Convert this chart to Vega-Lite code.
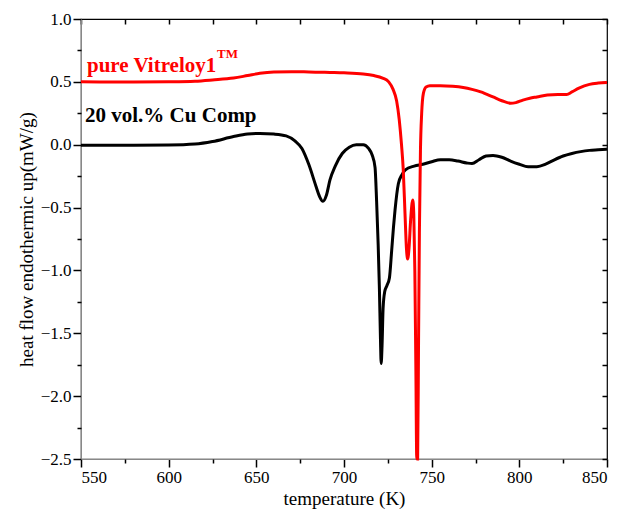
{
  "$schema": "https://vega.github.io/schema/vega-lite/v6.json",
  "width": 526,
  "height": 440,
  "autosize": {"type": "none"},
  "padding": {"left": 81, "top": 19, "right": 25, "bottom": 60},
  "config": {
    "view": {"stroke": "#000000", "strokeWidth": 1.2},
    "axis": {"grid": false}
  },
  "resolve": {"axis": {"x": "independent", "y": "independent"}},
  "layer": [
    {
      "data": {"values": [
      {"T": 550, "v": -0.005, "s": "black"}, {"T": 580, "v": -0.005, "s": "black"}, {"T": 600, "v": -0.003, "s": "black"}, {"T": 615, "v": 0.005, "s": "black"}, {"T": 625, "v": 0.025, "s": "black"}, {"T": 637, "v": 0.065, "s": "black"}, {"T": 645, "v": 0.085, "s": "black"}, {"T": 652, "v": 0.09, "s": "black"}, {"T": 660, "v": 0.085, "s": "black"}, {"T": 667, "v": 0.07, "s": "black"}, {"T": 672, "v": 0.03, "s": "black"}, {"T": 676, "v": -0.03, "s": "black"}, {"T": 680, "v": -0.16, "s": "black"}, {"T": 684, "v": -0.33, "s": "black"}, {"T": 686, "v": -0.41, "s": "black"}, {"T": 688, "v": -0.45, "s": "black"}, {"T": 690, "v": -0.4, "s": "black"}, {"T": 692, "v": -0.28, "s": "black"}, {"T": 695, "v": -0.17, "s": "black"}, {"T": 699, "v": -0.07, "s": "black"}, {"T": 703, "v": -0.02, "s": "black"}, {"T": 707, "v": 0.0, "s": "black"}, {"T": 711, "v": 0.0, "s": "black"}, {"T": 714, "v": -0.03, "s": "black"}, {"T": 716, "v": -0.08, "s": "black"}, {"T": 717.7, "v": -0.18, "s": "black"}, {"T": 718.6, "v": -0.45, "s": "black"}, {"T": 719.5, "v": -0.8, "s": "black"}, {"T": 720.2, "v": -1.15, "s": "black"}, {"T": 720.8, "v": -1.55, "s": "black"}, {"T": 721.2, "v": -1.74, "s": "black"}, {"T": 721.7, "v": -1.6, "s": "black"}, {"T": 722.3, "v": -1.3, "s": "black"}, {"T": 723.2, "v": -1.17, "s": "black"}, {"T": 724.5, "v": -1.12, "s": "black"}, {"T": 725.9, "v": -1.06, "s": "black"}, {"T": 727.2, "v": -0.84, "s": "black"}, {"T": 728.2, "v": -0.66, "s": "black"}, {"T": 729.1, "v": -0.52, "s": "black"}, {"T": 731, "v": -0.31, "s": "black"}, {"T": 733, "v": -0.24, "s": "black"}, {"T": 735, "v": -0.2, "s": "black"}, {"T": 740, "v": -0.17, "s": "black"}, {"T": 745, "v": -0.155, "s": "black"}, {"T": 750, "v": -0.135, "s": "black"}, {"T": 755, "v": -0.12, "s": "black"}, {"T": 760, "v": -0.12, "s": "black"}, {"T": 765, "v": -0.13, "s": "black"}, {"T": 770, "v": -0.145, "s": "black"}, {"T": 773, "v": -0.15, "s": "black"}, {"T": 777, "v": -0.12, "s": "black"}, {"T": 781, "v": -0.09, "s": "black"}, {"T": 785, "v": -0.085, "s": "black"}, {"T": 790, "v": -0.1, "s": "black"}, {"T": 795, "v": -0.13, "s": "black"}, {"T": 800, "v": -0.155, "s": "black"}, {"T": 805, "v": -0.175, "s": "black"}, {"T": 810, "v": -0.175, "s": "black"}, {"T": 815, "v": -0.155, "s": "black"}, {"T": 820, "v": -0.12, "s": "black"}, {"T": 825, "v": -0.09, "s": "black"}, {"T": 830, "v": -0.07, "s": "black"}, {"T": 835, "v": -0.055, "s": "black"}, {"T": 840, "v": -0.045, "s": "black"}, {"T": 845, "v": -0.04, "s": "black"}, {"T": 850, "v": -0.035, "s": "black"},
      {"T": 550, "v": 0.5, "s": "red"}, {"T": 580, "v": 0.498, "s": "red"}, {"T": 600, "v": 0.5, "s": "red"}, {"T": 615, "v": 0.505, "s": "red"}, {"T": 625, "v": 0.515, "s": "red"}, {"T": 637, "v": 0.53, "s": "red"}, {"T": 645, "v": 0.55, "s": "red"}, {"T": 652, "v": 0.568, "s": "red"}, {"T": 660, "v": 0.578, "s": "red"}, {"T": 670, "v": 0.58, "s": "red"}, {"T": 680, "v": 0.579, "s": "red"}, {"T": 692, "v": 0.575, "s": "red"}, {"T": 700, "v": 0.572, "s": "red"}, {"T": 711, "v": 0.563, "s": "red"}, {"T": 717, "v": 0.55, "s": "red"}, {"T": 722, "v": 0.53, "s": "red"}, {"T": 725.5, "v": 0.5, "s": "red"}, {"T": 728, "v": 0.44, "s": "red"}, {"T": 730, "v": 0.35, "s": "red"}, {"T": 731.5, "v": 0.2, "s": "red"}, {"T": 732.8, "v": 0.0, "s": "red"}, {"T": 733.8, "v": -0.2, "s": "red"}, {"T": 734.8, "v": -0.55, "s": "red"}, {"T": 735.6, "v": -0.82, "s": "red"}, {"T": 736.3, "v": -0.91, "s": "red"}, {"T": 737.1, "v": -0.82, "s": "red"}, {"T": 738, "v": -0.6, "s": "red"}, {"T": 739.2, "v": -0.44, "s": "red"}, {"T": 739.8, "v": -0.55, "s": "red"}, {"T": 740.4, "v": -1.0, "s": "red"}, {"T": 741.0, "v": -1.8, "s": "red"}, {"T": 741.5, "v": -2.5, "s": "red"}, {"T": 742.0, "v": -2.5, "s": "red"}, {"T": 742.5, "v": -1.6, "s": "red"}, {"T": 743.0, "v": -0.7, "s": "red"}, {"T": 743.6, "v": -0.05, "s": "red"}, {"T": 744.3, "v": 0.25, "s": "red"}, {"T": 745.3, "v": 0.41, "s": "red"}, {"T": 746.8, "v": 0.46, "s": "red"}, {"T": 749, "v": 0.47, "s": "red"}, {"T": 755, "v": 0.47, "s": "red"}, {"T": 762, "v": 0.465, "s": "red"}, {"T": 768, "v": 0.455, "s": "red"}, {"T": 773, "v": 0.44, "s": "red"}, {"T": 778, "v": 0.42, "s": "red"}, {"T": 785, "v": 0.38, "s": "red"}, {"T": 790, "v": 0.35, "s": "red"}, {"T": 795, "v": 0.33, "s": "red"}, {"T": 798, "v": 0.335, "s": "red"}, {"T": 802, "v": 0.355, "s": "red"}, {"T": 806, "v": 0.37, "s": "red"}, {"T": 810, "v": 0.38, "s": "red"}, {"T": 816, "v": 0.395, "s": "red"}, {"T": 822, "v": 0.4, "s": "red"}, {"T": 827, "v": 0.4, "s": "red"}, {"T": 830, "v": 0.42, "s": "red"}, {"T": 834, "v": 0.45, "s": "red"}, {"T": 840, "v": 0.48, "s": "red"}, {"T": 845, "v": 0.49, "s": "red"}, {"T": 850, "v": 0.495, "s": "red"}
      ]},
      "mark": {"type": "line", "strokeWidth": 3, "interpolate": "monotone"},
      "encoding": {
        "x": {"field": "T", "type": "quantitative", "scale": {"domain": [550, 850], "nice": false, "zero": false},
          "axis": {"orient": "bottom", "values": [550, 600, 650, 700, 750, 800, 850], "tickSize": 8, "tickColor": "black", "tickWidth": 1.5, "labelFont": "Liberation Serif", "labelFontSize": 17,
            "title": "temperature (K)", "titleFont": "Liberation Serif", "titleFontSize": 19, "titleFontWeight": "normal"}},
        "y": {"field": "v", "type": "quantitative", "scale": {"domain": [-2.5, 1.0], "nice": false, "zero": false},
          "axis": {"orient": "left", "values": [-2.5, -2, -1.5, -1, -0.5, 0, 0.5, 1], "tickSize": 8, "tickColor": "black", "tickWidth": 1.5, "labelFont": "Liberation Serif", "labelFontSize": 17, "format": ".1f",
            "title": "heat flow endothermic up(mW/g)", "titleFont": "Liberation Serif", "titleFontSize": 19, "titleFontWeight": "normal"}},
        "color": {"field": "s", "type": "nominal", "scale": {"domain": ["black", "red"], "range": ["#000000", "#ff0000"]}, "legend": null}
      }
    },
    {
      "data": {"values": [
        {"T": 553.4, "v": 0.578, "s": "red", "txt": "pure Vitreloy1"},
        {"T": 552.3, "v": 0.18, "s": "black", "txt": "20 vol.% Cu Comp"}
      ]},
      "mark": {"type": "text", "font": "Liberation Serif", "fontSize": 21, "fontWeight": "bold", "align": "left", "baseline": "alphabetic"},
      "encoding": {
        "x": {"field": "T", "type": "quantitative", "scale": {"domain": [550, 850], "nice": false, "zero": false},
          "axis": {"orient": "bottom", "values": [575, 625, 675, 725, 775, 825], "tickSize": 4, "tickColor": "black", "tickWidth": 1.5, "labels": false, "domain": false, "title": null}},
        "y": {"field": "v", "type": "quantitative", "scale": {"domain": [-2.5, 1.0], "nice": false, "zero": false},
          "axis": {"orient": "left", "values": [-2.25, -1.75, -1.25, -0.75, -0.25, 0.25, 0.75], "tickSize": 4, "tickColor": "black", "tickWidth": 1.5, "labels": false, "domain": false, "title": null}},
        "text": {"field": "txt"},
        "color": {"field": "s", "type": "nominal", "scale": {"domain": ["black", "red"], "range": ["#000000", "#ff0000"]}, "legend": null}
      }
    },
    {
      "data": {"values": [
        {"T": 627.6, "v": 0.69, "s": "red", "txt": "TM"}
      ]},
      "mark": {"type": "text", "font": "Liberation Serif", "fontSize": 13, "fontWeight": "bold", "align": "left", "baseline": "alphabetic"},
      "encoding": {
        "x": {"field": "T", "type": "quantitative", "scale": {"domain": [550, 850], "nice": false, "zero": false},
          "axis": {"orient": "top", "values": [550, 575, 600, 625, 650, 675, 700, 725, 750, 775, 800, 825, 850], "tickSize": -5, "tickColor": "black", "tickWidth": 1.5, "labels": false, "domain": false, "title": null}},
        "y": {"field": "v", "type": "quantitative", "scale": {"domain": [-2.5, 1.0], "nice": false, "zero": false},
          "axis": {"orient": "right", "values": [-2.5, -2.25, -2, -1.75, -1.5, -1.25, -1, -0.75, -0.5, -0.25, 0, 0.25, 0.5, 0.75, 1], "tickSize": -5, "tickColor": "black", "tickWidth": 1.5, "labels": false, "domain": false, "title": null}},
        "text": {"field": "txt"},
        "color": {"field": "s", "type": "nominal", "scale": {"domain": ["black", "red"], "range": ["#000000", "#ff0000"]}, "legend": null}
      }
    }
  ]
}
